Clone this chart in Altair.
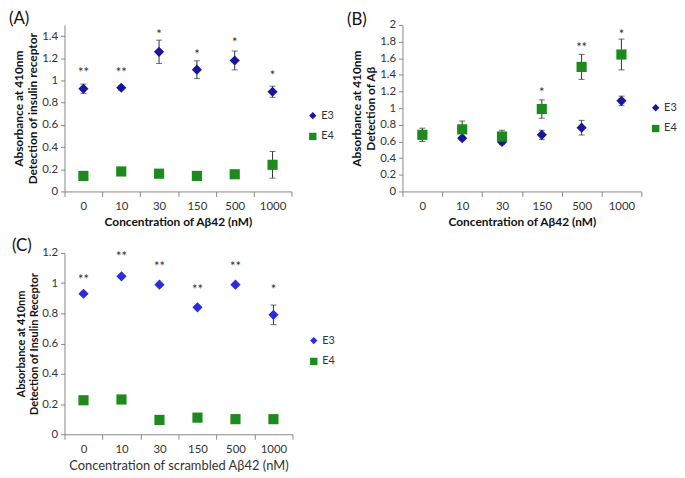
import altair as alt
import pandas as pd

categories = ["0", "10", "30", "150", "500", "1000"]
series = ["E3", "E4"]

# Panel A
a_e3 = [0.925, 0.934, 1.258, 1.097, 1.180, 0.898]
a_e3_err = [0.042, 0.02, 0.105, 0.08, 0.085, 0.05]
a_e4 = [0.14, 0.18, 0.16, 0.14, 0.155, 0.24]
a_e4_err = [0.03, 0.02, 0.015, 0.04, 0.015, 0.12]
a_stars = ["**", "**", "*", "*", "*", "*"]
a_star_y = [1.09, 1.09, 1.44, 1.26, 1.365, 1.07]

# Panel B
b_e3 = [0.69, 0.64, 0.595, 0.68, 0.766, 1.088]
b_e3_err = [0.03, 0.02, 0.03, 0.055, 0.088, 0.057]
b_e4 = [0.68, 0.746, 0.66, 0.99, 1.496, 1.645]
b_e4_err = [0.08, 0.10, 0.075, 0.11, 0.15, 0.185]
b_stars = ["", "", "", "*", "**", "*"]
b_star_y = [None, None, None, 1.22, 1.76, 1.91]

# Panel C
c_e3 = [0.93, 1.045, 0.99, 0.84, 0.99, 0.79]
c_e3_err = [0.01, 0.01, 0.01, 0.01, 0.01, 0.065]
c_e4 = [0.225, 0.23, 0.095, 0.11, 0.10, 0.10]
c_e4_err = [0.0, 0.0, 0.0, 0.0, 0.0, 0.0]
c_stars = ["**", "**", "**", "**", "**", "*"]
c_star_y = [1.043, 1.19, 1.124, 0.977, 1.126, 0.977]

FONT = "Lato"
GREEN = "#1d8a1d"


def panel(label, e3, e3err, e4, e4err, stars, star_y, ymax, yticks, w, h,
          ytitle, xtitle, xbold, xsize, ysize, e3color, legx, legy, tdx, toff):
    rows = []
    for s, vals, errs in (("E3", e3, e3err), ("E4", e4, e4err)):
        for c, v, e in zip(categories, vals, errs):
            rows.append({"cat": c, "series": s, "value": v,
                         "lo": v - e, "hi": v + e, "err": e})
    df = pd.DataFrame(rows)
    sdf = pd.DataFrame({"cat": categories, "star": stars, "sy": star_y}).dropna()
    sdf = sdf[sdf["star"] != ""]

    xaxis = alt.Axis(labelAngle=0, tickBand="extent", tickSize=5,
                     domainColor="#888888", tickColor="#888888",
                     labelColor="#333333", labelFont=FONT, labelFontSize=11.5,
                     labelPadding=4, titleFont=FONT, titleFontSize=xsize,
                     titleFontWeight="bold" if xbold else "normal",
                     titleColor="#111111" if xbold else "#333333",
                     titlePadding=5)
    xscale = alt.Scale(paddingInner=0, paddingOuter=0)

    def X():
        return alt.X("cat:N", sort=categories, title=xtitle, scale=xscale, axis=xaxis)

    yscale = alt.Scale(domain=[0, ymax], nice=False)
    yaxis = alt.Axis(values=yticks, grid=False, tickSize=4, domainColor="#888888",
                     tickColor="#888888", labelColor="#333333", labelFont=FONT,
                     labelFontSize=11.5, labelPadding=3, titleFont=FONT,
                     titleFontSize=ysize, titleFontWeight="bold", titleColor="#111111",
                     titlePadding=2, format=".1~f", labelOverlap=False)

    def Y(field):
        return alt.Y(field, scale=yscale, axis=yaxis, title=ytitle)

    leg = alt.Legend(title=None, orient="none", legendX=legx, legendY=legy,
                     labelFont=FONT, labelFontSize=11, labelColor="#333333",
                     symbolSize=55, rowPadding=9, symbolStrokeWidth=0, labelOffset=3)
    base = alt.Chart(df)
    rule = base.mark_rule(color="#333333", strokeWidth=1).encode(
        x=X(), y=Y("lo:Q"), y2="hi:Q")
    cap_lo = base.mark_tick(color="#333333", thickness=1, size=6, orient="horizontal").encode(
        x=X(), y=Y("lo:Q"))
    cap_hi = base.mark_tick(color="#333333", thickness=1, size=6, orient="horizontal").encode(
        x=X(), y=Y("hi:Q"))
    pts = base.mark_point(filled=True, opacity=1, size=105).encode(
        x=X(),
        y=Y("value:Q"),
        shape=alt.Shape("series:N", scale=alt.Scale(domain=series, range=["diamond", "square"]),
                        legend=leg),
        color=alt.Color("series:N", scale=alt.Scale(domain=series, range=[e3color, GREEN]),
                        legend=leg),
        order=alt.Order("series:N"),
    )
    txt = alt.Chart(sdf).mark_text(font=FONT, fontSize=13, color="#333333",
                                   baseline="middle", dy=3).encode(
        x=X(), y=Y("sy:Q"), text="star:N")
    return alt.layer(rule, cap_lo, cap_hi, pts, txt).properties(
        width=w, height=h,
        title=alt.TitleParams(label, anchor="start", dx=tdx, fontSize=17,
                              fontWeight="normal", font=FONT, color="#111111", offset=toff),
    )


pa = panel("(A)", a_e3, a_e3_err, a_e4, a_e4_err, a_stars, a_star_y, 1.5,
           [0, 0.2, 0.4, 0.6, 0.8, 1.0, 1.2, 1.4], 229, 168,
           ["Absorbance at 410nm", "Detection of insulin receptor"],
           "Concentration of Aβ42 (nM)", True, 12, 12, "#1616a0", 245, 86, -4, -3)
pb = panel("(B)", b_e3, b_e3_err, b_e4, b_e4_err, b_stars, b_star_y, 2.0,
           [0, 0.2, 0.4, 0.6, 0.8, 1.0, 1.2, 1.4, 1.6, 1.8, 2.0], 241, 168,
           ["Absorbance at 410nm", "Detection of Aβ"],
           "Concentration of Aβ42 (nM)", True, 12, 12, "#1616a0", 250, 78, -4, -10)
pc = panel("(C)", c_e3, c_e3_err, c_e4, c_e4_err, c_stars, c_star_y, 1.2,
           [0, 0.2, 0.4, 0.6, 0.8, 1.0, 1.2], 230, 183,
           ["Absorbance at 410nm", "Detection of Insulin Receptor"],
           "Concentration of scrambled Aβ42 (nM)", False, 13, 11, "#2b2be0", 246, 83, -4, -8)

chart = alt.concat(pa, pb, pc, columns=2, bounds="flush",
                   spacing={"row": 62, "column": 111}).resolve_scale(
    color="independent", shape="independent"
).properties(padding={"left": 0, "top": 0, "right": 0, "bottom": 0}).configure_view(stroke=None)

chart.save("out.html", embed_options={"renderer": "svg", "actions": False})
